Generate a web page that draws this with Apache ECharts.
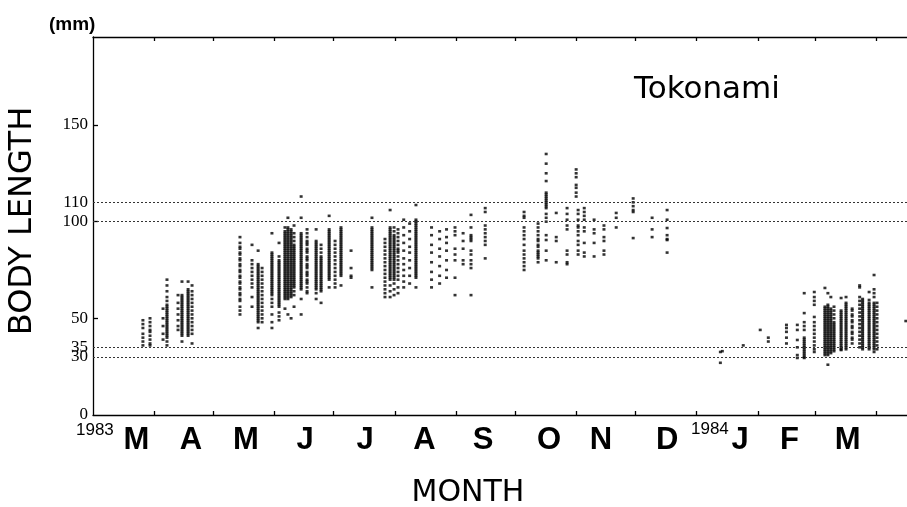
<!DOCTYPE html>
<html>
<head>
<meta charset="utf-8">
<script src="https://cdn.jsdelivr.net/npm/echarts@6/dist/echarts.min.js"></script>
<style>
  html, body { margin: 0; padding: 0; background: #fff; }
  #chart { width: 907px; height: 507px; }
</style>
</head>
<body>
<div id="chart"></div>
<script>
// Body length (mm) of fish caught at Tokonami, March 1983 - March 1984.
// Sampling days are counted from 1 March 1983 (day 0).

// Month boundaries (first day of each month) on the day scale
const monthStarts = [31, 61, 92, 122, 153, 184, 214, 245, 275, 306, 337, 366, 397];
// Month letters and where they sit along the axis
const monthLetters = ['M', 'A', 'M', 'J', 'J', 'A', 'S', 'O', 'N', 'D', 'J', 'F', 'M'];
const monthLabelDays = [22.0, 49.7, 77.5, 107.5, 137.9, 168.0, 197.7, 231.2, 257.5, 291.0, 328.0, 353.0, 382.5];

// Body-length axis labels and reference levels
const lengthLabels = [0, 30, 35, 50, 100, 110, 150];
const lengthTicks = [50, 100, 150];
const referenceLevels = [30, 35, 100, 110];

// Sampling day of each group of measured fish
const sampleDays = [
  25.3, 28.9, 35.5, 37.5, 43.1, 45.1, 48.2, 50.2,
  74.5, 80.6, 83.7, 85.7,
  90.7, 94.3, 97.3, 98.8, 100.4, 101.9, 105.5, 108.5, 113.1, 115.6, 119.7, 122.7, 125.7, 130.8,
  141.4, 148.0, 150.6, 152.6, 154.6, 157.5, 160.5, 163.7,
  171.6, 175.7, 179.2, 183.5, 187.6, 191.6, 198.8,
  218.5, 225.6, 229.7, 234.8, 240.3, 244.9, 245.9, 249.0, 254.0, 259.0, 265.2, 273.8, 283.4, 291.0,
  318.0, 319.0, 329.6, 338.2, 342.3, 351.5, 357.0, 360.5, 365.6,
  371.0, 372.5, 374.0, 375.6, 379.2, 381.7, 384.8, 388.6, 390.1, 393.4, 395.9, 397.4, 412.0
];

// Body lengths (mm) measured on each sampling day, same order as sampleDays
const sampleLengths = [
  [49, 47, 45, 42, 40, 38, 36],
  [50, 48, 46, 44, 43, 41, 39, 37, 36],
  [55, 50, 46, 42, 39],
  [70, 67, 64, 61, 59, 57, 56, 55, 54, 53, 52, 51, 50, 49, 48, 47, 46, 45, 44, 43, 42, 41, 40, 38, 36],
  [62, 58, 55, 52, 49, 46, 44],
  [69, 62, 61, 60, 59, 58, 57, 56, 55, 54, 53, 52, 51, 50, 49, 48, 47, 46, 45, 44, 43, 42, 41, 38],
  [69, 65, 64, 63, 62, 61, 60, 59, 58, 57, 56, 55, 54, 53, 52, 51, 50, 49, 48, 47, 46, 45, 44, 43, 42, 41],
  [67, 64, 62, 60, 58, 56, 54, 52, 50, 48, 46, 44, 42, 37],

  [92, 89, 87, 86, 84, 83, 81, 80, 78, 77, 75, 74, 72, 71, 69, 68, 66, 65, 63, 62, 60, 59, 56, 54, 52],
  [88, 80, 78, 76, 74, 72, 70, 68, 66, 61, 56],
  [85, 78, 77, 76, 75, 74, 73, 72, 71, 70, 69, 68, 67, 66, 65, 64, 63, 62, 61, 60, 59, 58, 57, 56, 55, 54, 53, 52, 51, 50, 49, 48, 45],
  [76, 74, 72, 70, 68, 66, 64, 62, 60, 58, 56, 54, 52, 50, 48],

  [94, 84, 83, 82, 81, 80, 79, 78, 77, 76, 75, 74, 73, 72, 71, 70, 69, 68, 67, 66, 65, 64, 63, 62, 60, 58, 56, 52, 48, 45],
  [89, 82, 80, 79, 78, 77, 76, 75, 74, 73, 72, 71, 70, 69, 68, 67, 66, 65, 64, 63, 62, 61, 60, 59, 58, 57, 56, 53, 51, 49],
  [97, 95, 94, 93, 92, 91, 90, 89, 88, 87, 86, 85, 84, 83, 82, 81, 80, 79, 78, 77, 76, 75, 74, 73, 72, 71, 70, 69, 68, 67, 66, 65, 64, 63, 62, 61, 60, 55],
  [102, 97, 96, 95, 94, 93, 92, 91, 90, 89, 88, 87, 86, 85, 84, 83, 82, 81, 80, 79, 78, 77, 76, 75, 74, 73, 72, 71, 70, 69, 68, 67, 66, 65, 64, 63, 62, 61, 60, 52],
  [96, 95, 94, 93, 92, 91, 90, 89, 88, 87, 86, 85, 84, 83, 82, 81, 80, 79, 78, 77, 76, 75, 74, 73, 72, 71, 70, 69, 68, 67, 66, 65, 64, 63, 62, 61, 50],
  [98, 94, 92, 90, 88, 87, 86, 85, 84, 83, 82, 81, 80, 79, 78, 77, 76, 75, 74, 73, 72, 71, 70, 69, 68, 67, 66, 64, 62, 56],
  [113, 102, 94, 93, 92, 91, 90, 89, 88, 87, 86, 85, 84, 83, 82, 81, 80, 79, 78, 77, 76, 75, 74, 73, 72, 71, 70, 69, 68, 67, 66, 65, 60, 52],
  [96, 94, 92, 90, 89, 88, 86, 85, 84, 82, 81, 80, 78, 77, 76, 74, 73, 72, 70, 69, 68, 66, 64, 63],
  [96, 90, 89, 88, 87, 86, 85, 84, 83, 82, 81, 80, 79, 78, 77, 76, 75, 74, 73, 72, 71, 70, 69, 68, 67, 66, 65, 63, 60],
  [88, 86, 84, 82, 81, 80, 79, 78, 77, 76, 75, 74, 73, 72, 71, 70, 69, 68, 67, 66, 65, 64, 58],
  [103, 96, 95, 94, 93, 92, 91, 90, 89, 88, 87, 86, 85, 84, 83, 82, 81, 80, 79, 78, 77, 76, 75, 74, 73, 72, 71, 70, 66],
  [90, 88, 86, 84, 82, 80, 78, 76, 74, 72, 70, 68, 66],
  [97, 96, 95, 94, 93, 92, 91, 90, 89, 88, 87, 86, 85, 84, 83, 82, 81, 80, 79, 78, 77, 76, 75, 74, 73, 72, 67],
  [85, 76, 72, 71],

  [102, 97, 96, 95, 94, 93, 92, 91, 90, 89, 88, 87, 86, 85, 84, 83, 82, 81, 80, 79, 78, 77, 76, 75, 66],
  [91, 89, 87, 85, 83, 81, 79, 77, 75, 73, 71, 69, 67, 65, 63, 61],
  [106, 97, 96, 95, 94, 93, 92, 91, 90, 89, 88, 87, 86, 85, 84, 83, 82, 81, 80, 79, 78, 77, 76, 75, 74, 73, 72, 71, 70, 67, 64, 61],
  [97, 95, 93, 92, 91, 90, 89, 88, 87, 86, 85, 84, 83, 82, 81, 80, 79, 78, 77, 76, 75, 74, 73, 72, 71, 70, 68, 65, 62],
  [96, 94, 92, 90, 88, 86, 85, 84, 82, 80, 78, 76, 74, 72, 70, 66, 63],
  [101, 97, 93, 89, 85, 81, 78, 75, 72, 69, 66],
  [99, 95, 91, 87, 84, 80, 76, 72, 68],
  [108.6, 101, 100, 99, 98, 97, 96, 95, 94, 93, 92, 91, 90, 89, 88, 87, 86, 85, 84, 83, 82, 81, 80, 79, 78, 77, 76, 75, 74, 73, 72, 71, 66],

  [97, 93, 88, 84, 79, 74, 70, 66],
  [95, 91, 86, 82, 77, 72, 68],
  [96, 92, 89, 85, 80, 75, 71],
  [97, 95, 93, 86, 83, 80, 71, 62],
  [94, 90, 86, 80, 78],
  [103.5, 97, 93, 92, 91, 90, 85, 83, 80, 78, 76, 62],
  [107, 105, 98, 96, 94, 92, 90, 88, 81],

  [105, 103, 102, 97, 95, 93, 91, 88, 85, 83, 81, 79, 77, 75],
  [99, 97, 95, 93, 91, 90, 88, 87, 85, 84, 83, 82, 81, 79],
  [135, 130, 125, 121, 115, 114, 113, 112, 111, 110, 109, 108, 107, 104, 102, 100, 93, 90.5, 85, 80],
  [104.5, 92, 90, 79],
  [107, 104, 101, 98, 96, 85, 83, 79, 78],
  [127, 125, 123, 119, 117.5, 115, 113],
  [106, 104, 101, 98, 97, 95, 93, 90, 88, 85, 83],
  [107, 105, 103, 101, 97, 95, 89, 84, 82],
  [101, 96, 94, 89, 82],
  [98, 96, 92, 90, 85, 83],
  [104.5, 102, 97],
  [112, 110, 108, 106, 105, 91.5],
  [102, 96, 92],
  [106, 101, 96.7, 93, 91, 90.5, 84],

  [32.6, 27],
  [33],
  [36],
  [44],
  [40, 38],
  [46.6, 45, 43, 40, 37],
  [46.6, 44, 38.8, 35, 31, 29.5],
  [63, 52.7, 48, 46, 44, 40, 39, 38, 37, 36, 35, 34, 33, 32, 31, 30, 29.5],
  [63.6, 61, 59, 57, 50.7, 48, 46, 44, 42, 40, 38, 36, 34, 32.6],

  [65.7, 56, 55, 54, 53, 52, 51, 50, 49, 48, 47, 46, 45, 44, 43, 42, 41, 40, 39, 38, 37, 36, 35, 34, 33, 32, 31],
  [63, 57, 56, 55, 54, 53, 52, 51, 50, 49, 48, 47, 46, 45, 44, 43, 42, 41, 40, 39, 38, 37, 36, 35, 34, 33, 32, 31, 26],
  [61, 55, 54, 53, 52, 51, 50, 49, 48, 47, 46, 45, 44, 43, 42, 41, 40, 39, 38, 37, 36, 35, 34, 33, 32],
  [56, 54, 52, 50, 48, 47, 46, 45, 44, 43, 42, 41, 40, 39, 38, 37, 36, 35, 34, 33],
  [60.5, 54, 53, 52, 51, 50, 49, 48, 47, 46, 45, 44, 43, 42, 41, 40, 39, 38, 37, 36, 35, 34, 33.6],
  [61, 58, 57, 56, 55, 54, 53, 52, 51, 50, 49, 48, 47, 46, 45, 44, 43, 42, 41, 40, 39, 38, 37, 36, 35, 34],
  [55, 54, 52, 51, 49, 48, 46, 45, 43, 42, 40, 39, 37],
  [67, 66, 61, 59, 57, 55, 53, 51, 49, 47, 45, 43, 41, 39, 37, 35],
  [60, 59, 58, 57, 56, 55, 54, 53, 52, 51, 50, 49, 48, 47, 46, 45, 44, 43, 42, 41, 40, 39, 38, 37, 36, 35, 34],
  [63.6, 59.5, 58, 57, 56, 55, 54, 53, 52, 51, 50, 49, 48, 47, 46, 45, 44, 43, 42, 41, 40, 39, 38, 37, 36, 35, 34],
  [72.4, 65, 63, 61, 58, 57, 56, 55, 54, 53, 52, 51, 50, 49, 48, 47, 46, 45, 44, 43, 42, 41, 40, 39, 38, 37, 36, 35, 34, 32.6],
  [58, 56, 54, 52, 50, 48, 46, 44, 42, 40, 38, 36, 34],
  [48.6]
];

// One point per measured fish
const points = [];
sampleDays.forEach(function (day, i) {
  sampleLengths[i].forEach(function (len) { points.push([day, len]); });
});

function monthLetterAt(v) {
  let best = 0;
  for (let i = 1; i < monthLabelDays.length; i++) {
    if (Math.abs(monthLabelDays[i] - v) < Math.abs(monthLabelDays[best] - v)) best = i;
  }
  return monthLetters[best];
}

const chart = echarts.init(document.getElementById('chart'), null, { renderer: 'canvas' });

const SANS = '"DejaVu Sans", "Liberation Sans", sans-serif';
const axisLineStyle = { color: '#000', width: 1.3 };

chart.setOption({
  animation: false,
  backgroundColor: '#fff',
  grid: { left: 93, right: 0, top: 37, bottom: 92 },
  xAxis: [
    {
      type: 'value', position: 'bottom', min: 0, max: 412.6,
      axisLine: { show: true, lineStyle: axisLineStyle },
      axisTick: { show: true, inside: true, length: 4, customValues: monthStarts, lineStyle: axisLineStyle },
      axisLabel: {
        show: true, customValues: monthLabelDays, margin: 10,
        formatter: function (v) { return monthLetterAt(v); },
        fontFamily: '"Liberation Sans", Arial, sans-serif', fontWeight: 'bold', fontSize: 31, color: '#000'
      },
      splitLine: { show: false }
    },
    {
      type: 'value', position: 'top', min: 0, max: 412.6,
      axisLine: { show: true, onZero: false, lineStyle: axisLineStyle },
      axisTick: { show: true, inside: true, length: 4, customValues: monthStarts, lineStyle: axisLineStyle },
      axisLabel: { show: false },
      splitLine: { show: false }
    }
  ],
  yAxis: {
    type: 'value', min: 0, max: 195.5,
    axisLine: { show: true, lineStyle: axisLineStyle },
    axisTick: { show: true, inside: true, length: 5, customValues: lengthTicks, lineStyle: axisLineStyle },
    axisLabel: {
      show: true, customValues: lengthLabels, margin: 5,
      fontFamily: '"Liberation Serif", "Times New Roman", serif', fontSize: 17, color: '#000'
    },
    splitLine: { show: false }
  },
  series: [
    {
      type: 'scatter',
      xAxisIndex: 0,
      data: points,
      symbol: 'rect',
      symbolSize: [3, 2.6],
      itemStyle: { color: '#000' },
      silent: true,
      markLine: {
        silent: true,
        symbol: 'none',
        label: { show: false },
        lineStyle: { type: [2, 2], color: '#333', width: 1 },
        data: referenceLevels.map(function (v) { return { yAxis: v }; })
      }
    }
  ],
  graphic: [
    { type: 'text', left: 49, top: 15, style: { text: '(mm)', font: 'bold 19px "Liberation Sans", Arial, sans-serif', fill: '#000' } },
    { type: 'text', x: 23, y: 221, rotation: Math.PI / 2,
      style: { text: 'BODY LENGTH', font: '32px ' + SANS, fill: '#000', align: 'center', verticalAlign: 'middle' } },
    { type: 'text', x: 468, y: 493, style: { text: 'MONTH', font: '30px ' + SANS, fill: '#000', align: 'center', verticalAlign: 'middle' } },
    { type: 'text', left: 634, top: 74, style: { text: 'Tokonami', font: '31px ' + SANS, fill: '#000' } },
    { type: 'text', left: 76, top: 422, style: { text: '1983', font: '17px "Liberation Sans", Arial, sans-serif', fill: '#000' } },
    { type: 'text', left: 691, top: 421, style: { text: '1984', font: '17px "Liberation Sans", Arial, sans-serif', fill: '#000' } }
  ]
});
</script>
</body>
</html>
